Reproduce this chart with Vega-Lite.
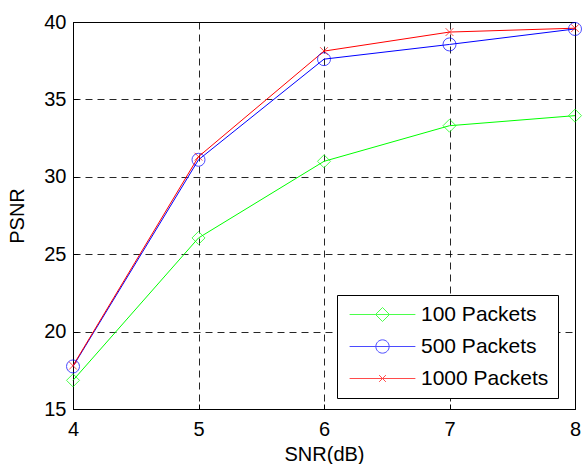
{
  "$schema": "https://vega.github.io/schema/vega-lite/v6.json",
  "width": 502,
  "height": 387,
  "autosize": {"type": "none"},
  "padding": {"left": 73, "top": 22, "right": 9, "bottom": 55},
  "background": "white",
  "config": {
    "view": {"stroke": "black", "strokeWidth": 1},
    "font": "Liberation Sans",
    "axis": {
      "domainColor": "black",
      "labelColor": "black",
      "labelFont": "Liberation Sans",
      "labelFontSize": 20,
      "labelFlush": false,
      "titleFont": "Liberation Sans",
      "titleFontSize": 20,
      "titleFontWeight": "normal",
      "titleColor": "black",
      "gridColor": "black",
      "gridDash": [7, 5],
      "gridOpacity": 0.85,
      "ticks": true,
      "tickSize": -5,
      "tickColor": "black"
    }
  },
  "data": {
    "values": [
      {"snr": 4, "psnr": 16.85, "series": "100 Packets"},
      {"snr": 5, "psnr": 26.05, "series": "100 Packets"},
      {"snr": 6, "psnr": 31.0, "series": "100 Packets"},
      {"snr": 7, "psnr": 33.3, "series": "100 Packets"},
      {"snr": 8, "psnr": 33.95, "series": "100 Packets"},
      {"snr": 4, "psnr": 17.75, "series": "500 Packets"},
      {"snr": 5, "psnr": 31.1, "series": "500 Packets"},
      {"snr": 6, "psnr": 37.6, "series": "500 Packets"},
      {"snr": 7, "psnr": 38.55, "series": "500 Packets"},
      {"snr": 8, "psnr": 39.55, "series": "500 Packets"},
      {"snr": 4, "psnr": 17.8, "series": "1000 Packets"},
      {"snr": 5, "psnr": 31.3, "series": "1000 Packets"},
      {"snr": 6, "psnr": 38.12, "series": "1000 Packets"},
      {"snr": 7, "psnr": 39.35, "series": "1000 Packets"},
      {"snr": 8, "psnr": 39.6, "series": "1000 Packets"}
    ]
  },
  "encoding": {
    "x": {
      "field": "snr", "type": "quantitative",
      "scale": {"domain": [4, 8], "nice": false},
      "axis": {"values": [4, 5, 6, 7, 8], "format": "d", "labelPadding": 15, "title": "SNR(dB)", "titlePadding": 5}
    },
    "y": {
      "field": "psnr", "type": "quantitative",
      "scale": {"domain": [15, 40], "nice": false, "zero": false},
      "axis": {"values": [15, 20, 25, 30, 35, 40], "labelPadding": 12, "title": "PSNR", "titlePadding": 16}
    },
    "color": {
      "field": "series", "type": "nominal",
      "scale": {"domain": ["100 Packets", "500 Packets", "1000 Packets"], "range": ["#00ff00", "#0000ff", "#ff0000"]},
      "legend": {
        "title": null,
        "orient": "none",
        "legendX": 264,
        "legendY": 273,
        "padding": 9,
        "strokeColor": "black",
        "fillColor": "white",
        "cornerRadius": 0,
        "rowPadding": 10,
        "labelFont": "Liberation Sans",
        "labelFontSize": 21,
        "labelColor": "black",
        "symbolSize": 196,
        "symbolOffset": 26,
        "labelOffset": 28,
        "symbolStrokeWidth": 1
      }
    }
  },
  "layer": [
    {
      "mark": {"type": "line", "strokeWidth": 1},
      "encoding": {}
    },
    {
      "transform": [{"filter": "datum.series === '100 Packets'"}],
      "mark": {"type": "point", "filled": false, "size": 169, "strokeWidth": 1, "shape": "diamond"},
      "encoding": {}
    },
    {
      "transform": [{"filter": "datum.series === '500 Packets'"}],
      "mark": {"type": "point", "filled": false, "size": 169, "strokeWidth": 1, "shape": "circle"},
      "encoding": {}
    },
    {
      "transform": [{"filter": "datum.series === '1000 Packets'"}],
      "mark": {"type": "point", "filled": false, "size": 169, "strokeWidth": 1, "shape": "M-0.6,-0.6L0.6,0.6M-0.6,0.6L0.6,-0.6"},
      "encoding": {}
    },
    {
      "transform": [{"filter": "false"}],
      "mark": {"type": "point", "filled": false, "strokeWidth": 1},
      "encoding": {
        "shape": {
          "field": "series", "type": "nominal",
          "scale": {"domain": ["100 Packets", "500 Packets", "1000 Packets"], "range": ["M-4.7,0H4.7M0,-1L1,0L0,1L-1,0Z", "M-4.7,0H4.7M-0.95,0A0.95,0.95,0,1,1,0.95,0A0.95,0.95,0,1,1,-0.95,0", "M-4.7,0H4.7M-0.48,-0.48L0.48,0.48M-0.48,0.48L0.48,-0.48"]}
        }
      }
    }
  ]
}
